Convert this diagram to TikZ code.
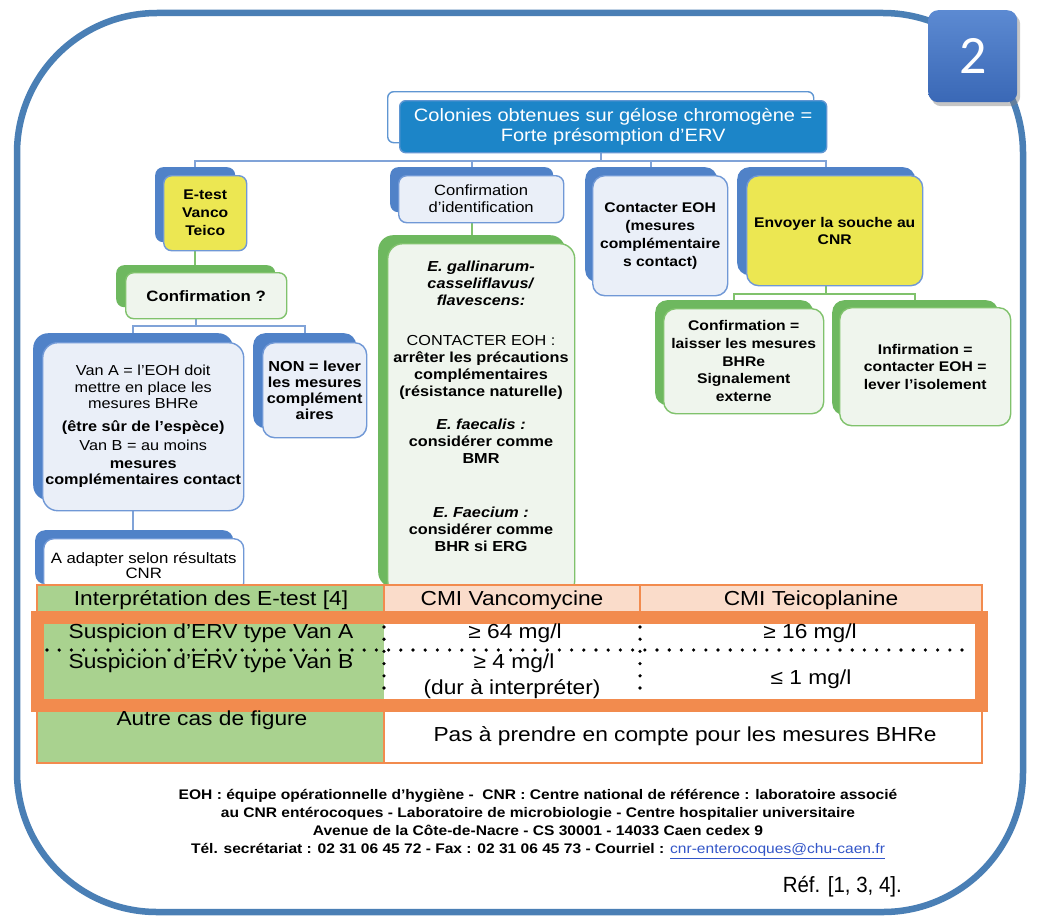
\documentclass[tikz,border=0pt]{standalone}
\usepackage{fontspec}
\setmainfont{Liberation Sans}[FakeStretch=1.12]
\newfontfamily\badgefont{Carlito}
\usetikzlibrary{shadows,calc}
\definecolor{frameblue}{RGB}{74,127,181}
\definecolor{backblue}{RGB}{80,130,200}
\definecolor{lineblue}{RGB}{112,152,214}
\definecolor{paleblue}{RGB}{234,239,248}
\definecolor{boxyellow}{RGB}{236,231,82}
\definecolor{backgreen}{RGB}{110,184,95}
\definecolor{linegreen}{RGB}{128,194,108}
\definecolor{palegreen}{RGB}{239,245,237}
\definecolor{titleblue}{RGB}{28,133,200}
\definecolor{titleline}{RGB}{95,150,210}
\definecolor{connblue}{RGB}{128,163,216}
\definecolor{conngreen}{RGB}{128,194,108}
\definecolor{tborange}{RGB}{242,139,78}
\definecolor{tbgreen}{RGB}{169,210,143}
\definecolor{tbpeach}{RGB}{250,220,202}
\definecolor{badgetop}{RGB}{92,138,210}
\definecolor{badgebot}{RGB}{58,104,182}
\definecolor{linkblue}{RGB}{50,85,200}
\newcommand\myfs[2]{\fontsize{#1}{#2}\selectfont}
\pgfdeclarelayer{bg}
\pgfsetlayers{bg,main}
\begin{document}
\begin{tikzpicture}[x=1pt,y=-1pt,
  bk/.style={anchor=north west, inner sep=0pt},
  fr/.style={anchor=north west, inner sep=0pt, align=center, line width=1.4pt},
  bkb/.style={bk, fill=backblue},
  bkg/.style={bk, fill=backgreen},
  frb/.style={fr, fill=paleblue, draw=lineblue},
  fry/.style={fr, fill=boxyellow, draw=lineblue},
  frg/.style={fr, fill=palegreen, draw=linegreen},
  conB/.style={draw=connblue, line width=1.9pt},
  conG/.style={draw=conngreen, line width=1.9pt},
  dotline/.style={draw=black, line width=3.6pt, dash pattern=on 0pt off 12.2pt, line cap=round},
  tbtext/.style={font=\myfs{20.3}{24}, align=center, inner sep=0pt},
  orangeline/.style={draw=tborange, line width=2.5pt}
]
\begin{pgfonlayer}{bg}
\fill[white] (0,0) rectangle (1040,915);
\draw[frameblue, line width=6.5pt, rounded corners=140pt] (17,13) rectangle (1023,912);
\end{pgfonlayer}
\useasboundingbox (0,0) rectangle (1040,915);

% title
\node[bk, fill=white, draw=titleline, line width=1.4pt, rounded corners=6pt, minimum width=426, minimum height=51] (titleB) at (387,91) {};
\node[fr, fill=titleblue, draw=titleline, rounded corners=6pt, minimum width=427, minimum height=52, text=white, font=\myfs{17.9}{20}] (title) at (399,100) {Colonies obtenues sur gélose chromogène =\\Forte présomption d’ERV};

% level 1
\node[bkb, rounded corners=8pt, minimum width=80, minimum height=75] (etestB) at (155,167) {};
\node[fry, rounded corners=8pt, minimum width=83, minimum height=75, font=\myfs{14}{18}\bfseries] (etest) at (163,175) {E-test\\Vanco\\Teico};

\node[bkb, rounded corners=8pt, minimum width=163, minimum height=45] (confidB) at (390,167) {};
\node[frb, rounded corners=8pt, minimum width=165, minimum height=47, font=\myfs{14.8}{17}] (confid) at (398,175) {Confirmation\\d’identification};

\node[bkb, rounded corners=12pt, minimum width=132, minimum height=115] (contB) at (585,167) {};
\node[frb, rounded corners=12pt, minimum width=135, minimum height=120, font=\myfs{14}{18}\bfseries] (cont) at (592,175) {Contacter EOH\\(mesures\\complémentaire\\s contact)};

\node[bkb, rounded corners=12pt, minimum width=178, minimum height=108] (envB) at (737,167) {};
\node[fry, rounded corners=12pt, minimum width=176, minimum height=110, font=\myfs{14}{17}\bfseries] (env) at (746,175) {Envoyer la souche au\\CNR};

% left branch
\node[bkg, rounded corners=8pt, minimum width=159, minimum height=42] (confqB) at (116,265) {};
\node[frg, rounded corners=8pt, minimum width=161, minimum height=46, font=\myfs{15}{17}\bfseries] (confq) at (125,272) {Confirmation ?};

\node[bkb, rounded corners=15pt, minimum width=200, minimum height=167] (vanaB) at (33,333) {};
\node[frb, rounded corners=15pt, minimum width=201, minimum height=168, font=\myfs{14.5}{16.5}] (vana) at (42,342) {Van A = l'EOH doit\\mettre en place les\\mesures BHRe\\[6pt]\textbf{(être sûr de l'espèce)}\\[3pt]Van B = au moins\\[1pt]\textbf{mesures}\\\textbf{complémentaires contact}};

\node[bkb, rounded corners=12pt, minimum width=103, minimum height=95] (nonB) at (253,333) {};
\node[frb, rounded corners=12pt, minimum width=104, minimum height=95, font=\myfs{14.5}{16}\bfseries] (non) at (262,342) {NON = lever\\les mesures\\complément\\aires};

\node[bkb, rounded corners=10pt, minimum width=198, minimum height=54] (adaptB) at (35,530) {};
\node[frb, fill=white, rounded corners=10pt, minimum width=200, minimum height=54, font=\myfs{15}{15.5}] (adapt) at (43,538) {A adapter selon résultats\\CNR};

% middle branch
\node[bkg, rounded corners=15pt, minimum width=187, minimum height=352] (midB) at (378,235) {};
\node[frg, rounded corners=15pt, minimum width=187, minimum height=352] (mid) at (387,243) {};
\node[font=\myfs{14.5}{17}, align=center, inner sep=0pt] (midtext) at (481,406) {\textbf{\textit{E. gallinarum-}}\\\textbf{\textit{casseliflavus/}}\\\textbf{\textit{flavescens:}}\\[23pt]CONTACTER EOH :\\\textbf{arrêter les précautions}\\\textbf{complémentaires}\\\textbf{(résistance naturelle)}\\[16pt]\textbf{\textit{E. faecalis :}}\\\textbf{considérer comme}\\\textbf{BMR}\\[37pt]\textbf{\textit{E. Faecium :}}\\\textbf{considérer comme}\\\textbf{BHR si ERG}};

% right branch
\node[bkg, rounded corners=12pt, minimum width=158, minimum height=105] (cfmB) at (655,300) {};
\node[frg, rounded corners=12pt, minimum width=160, minimum height=105, font=\myfs{14}{17.7}\bfseries] (cfm) at (663,308) {Confirmation =\\laisser les mesures\\BHRe\\Signalement\\externe};

\node[bkg, rounded corners=12pt, minimum width=166, minimum height=115] (infB) at (832,300) {};
\node[frg, rounded corners=12pt, minimum width=171, minimum height=118, font=\myfs{14}{17.5}\bfseries] (inf) at (839,307) {Infirmation =\\contacter EOH =\\lever l’isolement};

% table
\fill[tbgreen] (37,585) rectangle (384,763);
\fill[tbpeach] (384,585) rectangle (982,611);
\fill[white] (384,611) rectangle (982,763);
\draw[orangeline] (37,585) rectangle (982,763);
\draw[orangeline] (384,585) -- (384,611) (640,585) -- (640,611) (384,711) -- (384,763);
\draw[draw=tborange, line width=13pt] (37.5,617.5) rectangle (981,705);
\draw[dotline] (47,650) -- (973,650);
\draw[dotline] (384,627) -- (384,697);
\draw[dotline] (640,627) -- (640,697);

\node[tbtext] (h1) at (211,600) {Interprétation des E-test [4]};
\node[tbtext] (h2) at (512,600) {CMI Vancomycine};
\node[tbtext] (h3) at (811,600) {CMI Teicoplanine};
\node[tbtext] (ra) at (211,633) {Suspicion d’ERV type Van A};
\node[tbtext] (rb) at (211,663) {Suspicion d’ERV type Van B};
\node[tbtext] (va1) at (515,633) {≥ 64 mg/l};
\node[tbtext] (ta1) at (810,633) {≥ 16 mg/l};
\node[tbtext] (vb1) at (514,663) {≥ 4 mg/l};
\node[tbtext] (vb2) at (512,689) {(dur à interpréter)};
\node[tbtext] (tb1) at (811,679) {≤ 1 mg/l};
\node[tbtext] (rc) at (212,720) {Autre cas de figure};
\node[tbtext] (rcv) at (685,736) {Pas à prendre en compte pour les mesures BHRe};

% footer
\node[font=\myfs{13.9}{18}\bfseries, align=center, inner sep=0pt] (foot) at (538,824) {EOH : équipe opérationnelle d'hygiène - \ CNR : Centre national de référence : laboratoire associé\\au CNR entérocoques - Laboratoire de microbiologie - Centre hospitalier universitaire\\Avenue de la Côte-de-Nacre - CS 30001 - 14033 Caen cedex 9\\Tél. secrétariat : 02 31 06 45 72 - Fax : 02 31 06 45 73 - Courriel : \textcolor{linkblue}{\mdseries\underline{cnr-enterocoques@chu-caen.fr}}};
\node[anchor=east, inner sep=0pt] (ref) at (902,887) {\scalebox{0.83}[1]{\myfs{22}{22}Réf. [1, 3, 4].}};

% badge
\node[bk, rounded corners=10pt, minimum width=89, minimum height=92, top color=badgetop, bottom color=badgebot, drop shadow={shadow xshift=3pt, shadow yshift=-4pt, opacity=0.45}, text=white, font=\badgefont\myfs{54}{54}] (badge) at (928,10) {2};

% connectors
\coordinate (busA) at ($(titleB.center |- title.south)+(0,8)$);
\coordinate (busB) at ($(confqB.center |- confq.south)+(0,7)$);
\coordinate (busC) at ($(envB.center |- env.south)+(0,8)$);
\begin{pgfonlayer}{bg}
\draw[conB] (titleB.center) -- (busA);
\draw[conB] (etestB.north) |- (busA) -| (envB.north);
\draw[conB] (confidB.north) -- (confidB.north |- busA);
\draw[conB] (contB.north) -- (contB.north |- busA);
\draw[conG] (etestB.center) -- (etestB.center |- confqB.north);
\draw[conB] (confqB.center) -- (busB);
\draw[conB] (vanaB.north) |- (busB) -| (nonB.north);
\draw[conB] (vanaB.center) -- (vanaB.center |- adaptB.north);
\draw[conG] (confidB.center) -- (confidB.center |- midB.north);
\draw[conG] (envB.center) -- (busC);
\draw[conG] (cfmB.north) |- (busC) -| (infB.north);
\end{pgfonlayer}
\end{tikzpicture}
\end{document}
